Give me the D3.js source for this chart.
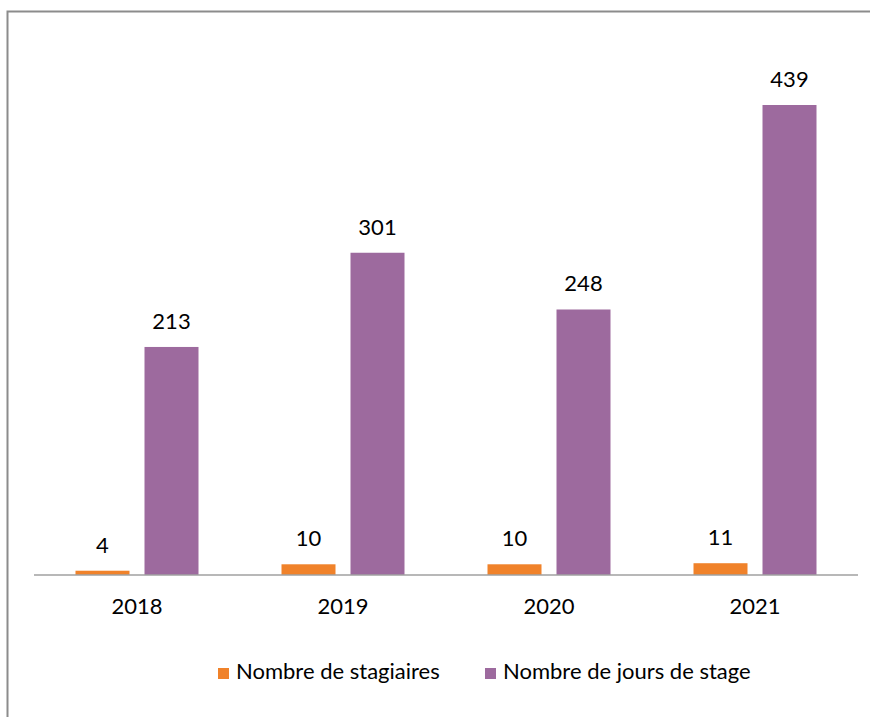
<!DOCTYPE html>
<html>
<head>
<meta charset="utf-8">
<script src="https://cdn.jsdelivr.net/npm/d3@7"></script>
<style>
  html, body { margin: 0; padding: 0; background: #fff; }
  svg { display: block; font-family: Lato, "Open Sans", sans-serif; }
</style>
</head>
<body>
<svg id="chart" width="870" height="717"></svg>
<script>
// Years and series values
const years = ["2018", "2019", "2020", "2021"];
const stagiaires = [4, 10, 10, 11];
const joursStage = [213, 301, 248, 439];
const seriesNames = ["Nombre de stagiaires", "Nombre de jours de stage"];
const seriesColors = ["#F0822A", "#9D6A9E"];

const svg = d3.select("#chart");
const W = 870, H = 717;
const FS = 22;

// outer frame (only top and left edges fall inside the view)
svg.append("rect")
  .attr("x", 7.5).attr("y", 11.5)
  .attr("width", W + 20).attr("height", H + 20)
  .attr("fill", "none").attr("stroke", "#8c8c8c").attr("stroke-width", 2);

const plot = { left: 34, right: 858, baseline: 575 };

const x0 = d3.scaleBand()
  .domain(years)
  .range([plot.left, plot.right])
  .paddingInner(0)
  .paddingOuter(0);

const groupW = 123;
const x1 = d3.scaleBand()
  .domain([0, 1])
  .range([0, groupW])
  .paddingInner(15 / 69)
  .paddingOuter(0);

const y = d3.scaleLinear()
  .domain([0, 500])
  .range([plot.baseline, plot.baseline - 535.3]);

const rows = years.map((yr, i) => ({ year: yr, values: [stagiaires[i], joursStage[i]] }));

const groups = svg.append("g").selectAll("g")
  .data(rows)
  .join("g")
  .attr("transform", d => `translate(${x0(d.year) + (x0.bandwidth() - groupW) / 2},0)`);

groups.selectAll("rect")
  .data(d => d.values.map((v, k) => ({ v, k })))
  .join("rect")
  .attr("x", d => x1(d.k))
  .attr("width", x1.bandwidth())
  .attr("y", d => y(d.v))
  .attr("height", d => y(0) - y(d.v))
  .attr("fill", d => seriesColors[d.k]);

groups.selectAll("text.val")
  .data(d => d.values.map((v, k) => ({ v, k })))
  .join("text")
  .attr("class", "val")
  .attr("x", d => x1(d.k) + x1.bandwidth() / 2)
  .attr("y", d => y(d.v) - 18)
  .attr("text-anchor", "middle")
  .attr("font-size", FS)
  .attr("fill", "#000")
  .text(d => d.v);

// category axis
const xAxis = svg.append("g")
  .attr("transform", `translate(0,${plot.baseline})`)
  .call(d3.axisBottom(x0).tickSize(0).tickPadding(0));
xAxis.select(".domain").attr("stroke", "#a0a0a0").attr("stroke-width", 1.5)
  .attr("d", `M${plot.left},0H${plot.right}`);
xAxis.selectAll(".tick text")
  .attr("y", 39)
  .attr("dy", null)
  .attr("font-size", FS)
  .attr("font-family", "Lato, 'Open Sans', sans-serif")
  .attr("fill", "#000");

// legend
const legendX = [218, 485];
const legend = svg.append("g").selectAll("g")
  .data(seriesNames)
  .join("g")
  .attr("transform", (d, i) => `translate(${legendX[i]},668)`);
legend.append("rect")
  .attr("width", 11).attr("height", 11)
  .attr("fill", (d, i) => seriesColors[i]);
legend.append("text")
  .attr("x", 18).attr("y", 11)
  .attr("font-size", FS)
  .attr("fill", "#000")
  .text(d => d);
</script>
</body>
</html>
